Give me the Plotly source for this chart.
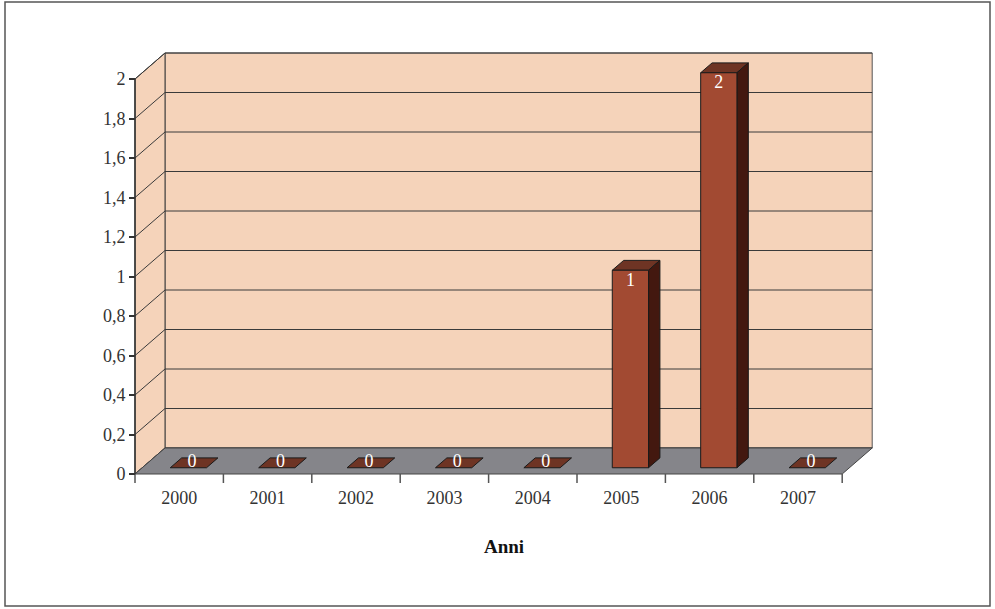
import plotly.graph_objects as go

# ---- data ----
years = ["2000", "2001", "2002", "2003", "2004", "2005", "2006", "2007"]
values = [0, 0, 0, 0, 0, 1, 2, 0]
y_ticks = [0, 0.2, 0.4, 0.6, 0.8, 1, 1.2, 1.4, 1.6, 1.8, 2]
x_title = "Anni"

# ---- layout geometry (pixels) ----
W, H = 995, 609
AX_X = 135        # px of front y-axis (category -0.5)
CAT = 88.4        # px per category
Y0 = 474          # px of value 0 on front plane
UNIT = 197.5      # px per unit
PL, PR, PT, PB = 128, 880, 46, 488

xr = [-0.5 - (AX_X - PL) / CAT, -0.5 + (PR - AX_X) / CAT]
yr = [-(PB - Y0) / UNIT, (Y0 - PT) / UNIT]

# depth of the 3D box in data units
DX = 30 / CAT
DY = 26 / UNIT
# bars occupy part of the depth
F1, F2 = 0.24, 0.62
BW = 0.41
SHIFT = 2 / CAT
YMAX = max(y_ticks)
n = len(years)

WALL = "#F5D3BA"
FLOOR = "#85858A"
FRONT = "#A24A32"
SIDE = "#43180F"
TOP = "#6E3424"
GRID = "#3a3a3a"
EDGE = "#1a1a1a"


def poly(pts):
    d = "M " + " L ".join(f"{x},{y}" for x, y in pts) + " Z"
    return d


shapes = []
# back wall
shapes.append(dict(type="path", xref="x", yref="y", layer="below",
                   path=poly([(-0.5 + DX, DY), (n - 0.5 + DX, DY),
                              (n - 0.5 + DX, YMAX + DY), (-0.5 + DX, YMAX + DY)]),
                   fillcolor=WALL, line=dict(color="#555555", width=1)))
# left wall
shapes.append(dict(type="path", xref="x", yref="y", layer="below",
                   path=poly([(-0.5, 0), (-0.5, YMAX), (-0.5 + DX, YMAX + DY), (-0.5 + DX, DY)]),
                   fillcolor=WALL, line=dict(color=GRID, width=1)))
# gridlines
for t in y_ticks:
    shapes.append(dict(type="line", xref="x", yref="y", layer="below",
                       x0=-0.5 + DX, x1=n - 0.5 + DX, y0=t + DY, y1=t + DY,
                       line=dict(color=GRID, width=1)))
    shapes.append(dict(type="line", xref="x", yref="y", layer="below",
                       x0=-0.5, x1=-0.5 + DX, y0=t, y1=t + DY,
                       line=dict(color=GRID, width=1)))
# floor
shapes.append(dict(type="path", xref="x", yref="y", layer="below",
                   path=poly([(-0.5, 0), (n - 0.5, 0), (n - 0.5 + DX, DY), (-0.5 + DX, DY)]),
                   fillcolor=FLOOR, line=dict(color="#444444", width=1)))
# front y axis line
shapes.append(dict(type="line", xref="x", yref="y", layer="below",
                   x0=-0.5, x1=-0.5, y0=0, y1=YMAX,
                   line=dict(color="#333333", width=1.5)))
# boundary ticks under floor front edge
for i in range(n + 1):
    shapes.append(dict(type="line", xref="x", yref="y", layer="below",
                       x0=i - 0.5, x1=i - 0.5, y0=0, y1=-9 / UNIT,
                       line=dict(color="#555555", width=1.5)))

# bars
lab_x, lab_y, lab_t = [], [], []
ox1, oy1 = F1 * DX + SHIFT, F1 * DY
ox2, oy2 = F2 * DX + SHIFT, F2 * DY
bdx, bdy = ox2 - ox1, oy2 - oy1
for i, v in enumerate(values):
    x0 = i - BW / 2 + ox1
    x1 = i + BW / 2 + ox1
    b = oy1
    tp = v + oy1
    # top face
    shapes.append(dict(type="path", xref="x", yref="y", layer="below",
                       path=poly([(x0, tp), (x1, tp), (x1 + bdx, tp + bdy), (x0 + bdx, tp + bdy)]),
                       fillcolor=TOP, line=dict(color=EDGE, width=1)))
    if v > 0:
        shapes.append(dict(type="path", xref="x", yref="y", layer="below",
                           path=poly([(x1, b), (x1, tp), (x1 + bdx, tp + bdy), (x1 + bdx, b + bdy)]),
                           fillcolor=SIDE, line=dict(color=EDGE, width=1)))
        shapes.append(dict(type="path", xref="x", yref="y", layer="below",
                           path=poly([(x0, b), (x1, b), (x1, tp), (x0, tp)]),
                           fillcolor=FRONT, line=dict(color=EDGE, width=1)))
        lab_x.append(i + ox1)
        lab_y.append(tp - 11 / UNIT)
    else:
        lab_x.append(i + ox1 + bdx / 2 - 2 / CAT)
        lab_y.append(tp + bdy / 2)
    lab_t.append(f"{v:g}")

# outer frame (paper coordinates)
def xp(px):
    return (px - PL) / (PR - PL)


def yp(py):
    return (PB - py) / (PB - PT)


shapes.append(dict(type="rect", xref="paper", yref="paper",
                   x0=xp(5), x1=xp(990), y0=yp(606), y1=yp(2),
                   line=dict(color="#555555", width=1.5), fillcolor="rgba(0,0,0,0)"))

fig = go.Figure()
fig.add_trace(go.Scatter(x=lab_x, y=lab_y, text=lab_t, mode="text",
                         textposition="middle center",
                         textfont=dict(family="Liberation Serif", size=18, color="white"),
                         hoverinfo="skip", showlegend=False, cliponaxis=False))

fig.update_layout(
    width=W, height=H,
    margin=dict(l=PL, r=W - PR, t=PT, b=H - PB, pad=0),
    paper_bgcolor="white", plot_bgcolor="rgba(0,0,0,0)",
    separators=",.",
    shapes=shapes,
    font=dict(family="Liberation Serif", size=18, color="#333333"),
    xaxis=dict(range=xr, tickmode="array", tickvals=list(range(n)), ticktext=years,
               showgrid=False, zeroline=False, showline=False, ticks="",
               ticklabelstandoff=-3,
               title=dict(text="<b>" + x_title + "</b>", standoff=32,
                          font=dict(family="Liberation Serif", size=19, color="#111111")),
               fixedrange=True),
    yaxis=dict(range=yr, tickmode="array", tickvals=y_ticks,
               ticktext=[f"{t:g}".replace(".", ",") for t in y_ticks],
               showgrid=False, zeroline=False, showline=False,
               ticks="outside", ticklen=6, tickcolor="#333333", tickwidth=1.5,
               anchor="free", position=xp(AX_X), fixedrange=True),
    showlegend=False,
)

fig.write_html("out.html")
